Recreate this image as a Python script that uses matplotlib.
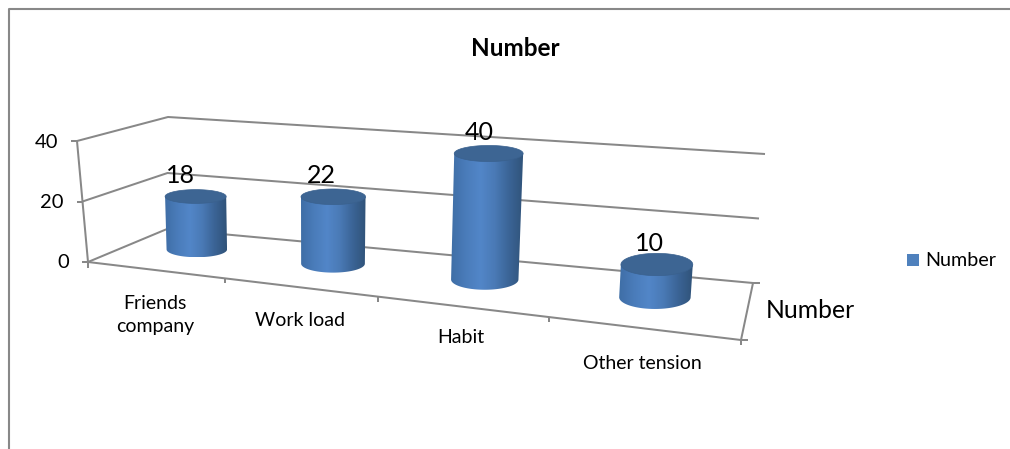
"""Excel-style 3D cylinder chart, drawn on a pixel-sized axes with a small perspective helper."""
import numpy as np
import matplotlib
matplotlib.use("Agg")
import matplotlib.pyplot as plt
from matplotlib.colors import LinearSegmentedColormap
from matplotlib.patches import PathPatch, Polygon, Rectangle
from matplotlib.path import Path

plt.rcParams["font.family"] = ["Lato", "DejaVu Sans"]

title = "Number"
categories = ["Friends\ncompany", "Work load", "Habit", "Other tension"]
values = [18, 22, 40, 10]
yticks = [0, 20, 40]
series_name = "Number"

W, H = 1010, 449
GRAY = "#888888"
YMAX = 40
PERSP = 1.25
# box corners in pixels
FL0, FR0, BR0, BL0 = map(np.array, [(88, 262), (741, 340), (753, 283), (167, 229)])
FL1, FR1, BR1, BL1 = map(np.array, [(77, 141), (748, 200), (765, 154), (168, 117)])


def warp(t):
    # category position along the axis -> foreshortened fraction
    return t / (t + PERSP * (1 - t))


def bilinear(a, b, c, e, u, d):
    front = np.multiply.outer(1 - u, a) + np.multiply.outer(u, b)
    back = np.multiply.outer(1 - u, e) + np.multiply.outer(u, c)
    d = np.asarray(d)[..., None]
    return front * (1 - d) + back * d


def project(u, d, v=0.0):
    u, d = np.asarray(u, float), np.asarray(d, float)
    lo = bilinear(FL0, FR0, BR0, BL0, u, d)
    hi = bilinear(FL1, FR1, BR1, BL1, u, d)
    return lo + (hi - lo) * v / YMAX


def segs(ax, pts, z=1, lw=1.45):
    xs, ys = zip(*pts)
    ax.plot(xs, ys, color=GRAY, lw=lw, zorder=z, solid_capstyle="butt")


def ring(tc, rt, dc, rd, v, theta):
    # level ellipse: x only follows the axis, y only follows the depth
    us = tc + rt * np.cos(theta)
    x = project(us, np.full_like(us, dc), v)[:, 0]
    y = project(np.full_like(us, tc), dc + rd * np.sin(theta), v)[:, 1]
    return np.column_stack([x, y])


fig = plt.figure(figsize=(W / 100, H / 100), dpi=100)
ax = fig.add_axes([0, 0, 1, 1])
ax.set_xlim(0, W)
ax.set_ylim(H, 0)
ax.axis("off")

# chart frame, only top and left are visible
segs(ax, [(W, 9), (9, 9), (9, H)], lw=1.5)

# walls and gridlines
for tk in yticks:
    f, b, r = project(0, 0, tk), project(0, 1, tk), project(1, 1, tk)
    segs(ax, [f, b, r])
    segs(ax, [f, f - (6, 0)])
    ax.text(f[0] - 19, f[1] + 1, str(tk), fontsize=14.5, ha="right", va="center", color="black")
segs(ax, [project(0, 0, 0), project(0, 0, YMAX)])
segs(ax, [project(0, 0, 0), project(1, 0, 0), project(1, 1, 0)])
segs(ax, [project(0, 0, 0), project(0, 0, 0) + (0, 6)])
for d in (0, 1):
    p = project(1, d, 0)
    segs(ax, [p, p + (7, 0)])
n = len(categories)
for i in range(1, n + 1):
    p = project(warp(i / n), 0, 0)
    segs(ax, [p, p + (0, 5)])

# cylinders
cyl_cmap = LinearSegmentedColormap.from_list(
    "cyl", ["#3f6ea6", "#4a7cba", "#5286c8", "#4a7ab6", "#3b6496", "#305379"])
grad = np.linspace(0, 1, 128).reshape(1, -1)
theta = np.linspace(0, 2 * np.pi, 181)
DC, RD = 0.58, 0.22
label_dy = [45, 33, 31, 35]

for i, (cat, val) in enumerate(zip(categories, values)):
    tc = warp((i + 0.5) / n)
    rt = 0.048 + 0.012 * tc
    base = ring(tc, rt, DC, RD, 0, theta)
    top = ring(tc, rt, DC, RD, val, theta)

    il, ir = base[:, 0].argmin(), base[:, 0].argmax()
    lo = base[base[:, 1] >= project(tc, DC, 0)[1]]
    lo = lo[lo[:, 0].argsort()]
    jl, jr = top[:, 0].argmin(), top[:, 0].argmax()
    side = np.vstack([base[il], lo, base[ir], top[jr], top[jl]])
    xa = min(base[il, 0], top[jl, 0])
    xb = max(base[ir, 0], top[jr, 0])

    im = ax.imshow(grad, cmap=cyl_cmap, aspect="auto", zorder=3,
                   extent=(xa, xb, base[:, 1].max(), top[:, 1].min()))
    im.set_clip_path(Polygon(side, closed=True, transform=ax.transData))
    ax.add_patch(PathPatch(Path(top), facecolor="#3d6593", edgecolor="#3a618e", lw=0.5, zorder=4))

    tp = project(tc, DC, val)
    ax.text(tp[0] - 15 + 8 * i / (n - 1), tp[1] - 21, str(val), fontsize=18, ha="center", va="center",
            color="black", zorder=5)

    front = project(tc, 0, 0)
    ax.text(front[0], front[1] + label_dy[i], cat, fontsize=14, ha="center", va="center",
            linespacing=1.45, color="black")

ax.set_xlim(0, W)
ax.set_ylim(H, 0)

ax.text(515, 48, title, fontsize=17.5, fontweight="bold", ha="center", va="center", color="black")
ax.text(810, 310, series_name, fontsize=17.8, ha="center", va="center", color="black")
ax.add_patch(Rectangle((907, 254), 12, 12, facecolor="#4f81bd", edgecolor="none"))
ax.text(925, 260, series_name, fontsize=14.2, ha="left", va="center", color="black")

fig.savefig("out.png", dpi=100)
